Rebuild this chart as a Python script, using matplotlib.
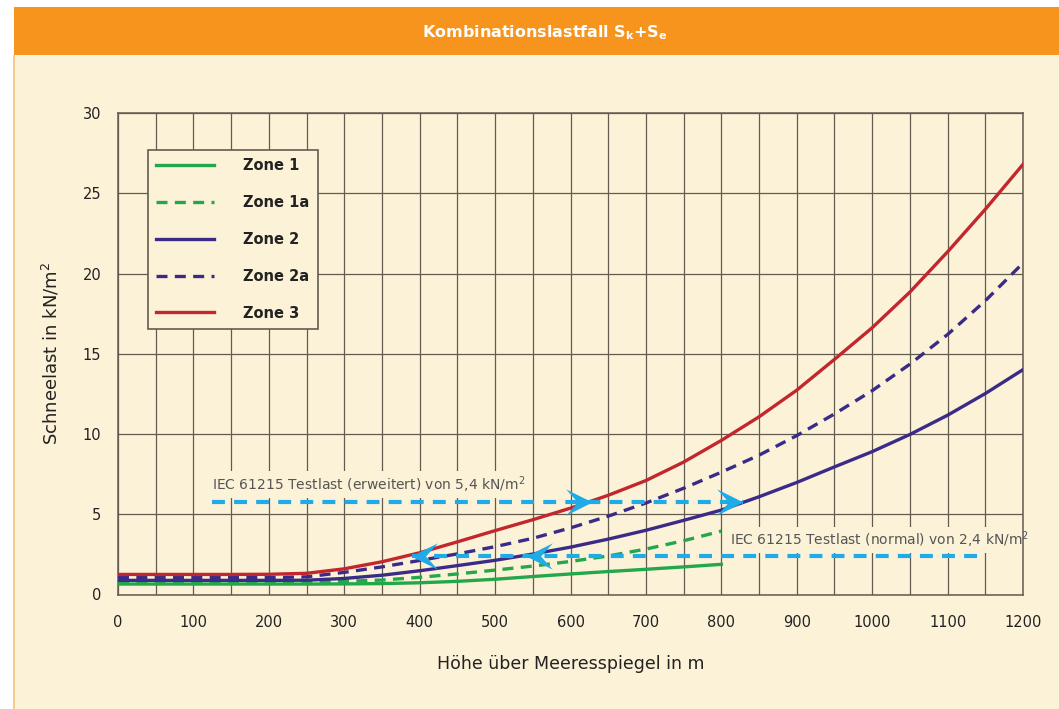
import matplotlib
matplotlib.use("Agg")
import matplotlib.pyplot as plt
from matplotlib.patches import Rectangle
from matplotlib.path import Path

# --- data ---
alt_800 = [0, 50, 100, 150, 200, 250, 300, 350, 400, 450, 500, 550, 600, 650, 700, 750, 800]
alt_1200 = alt_800 + [850, 900, 950, 1000, 1050, 1100, 1150, 1200]

zone1 = [0.65, 0.65, 0.65, 0.65, 0.65, 0.65, 0.66, 0.68, 0.73, 0.82, 0.95, 1.12, 1.28, 1.43, 1.57, 1.72, 1.88]
zone1a = [0.8, 0.8, 0.8, 0.8, 0.8, 0.8, 0.82, 0.9, 1.07, 1.28, 1.52, 1.77, 2.06, 2.4, 2.83, 3.35, 3.95]
zone2 = [0.88, 0.88, 0.88, 0.88, 0.88, 0.89, 1.0, 1.2, 1.48, 1.8, 2.13, 2.52, 2.95, 3.45, 4.0, 4.62, 5.26,
         6.09, 6.98, 7.95, 8.9, 9.97, 11.17, 12.52, 14.01]
zone2a = [1.05, 1.05, 1.05, 1.05, 1.05, 1.1, 1.38, 1.72, 2.12, 2.53, 2.98, 3.5, 4.15, 4.88, 5.7, 6.62, 7.62,
          8.68, 9.9, 11.25, 12.7, 14.35, 16.2, 18.3, 20.65]
zone3 = [1.25, 1.25, 1.25, 1.25, 1.26, 1.32, 1.6, 2.04, 2.6, 3.28, 3.98, 4.66, 5.38, 6.18, 7.1, 8.25, 9.6,
         11.07, 12.73, 14.65, 16.62, 18.84, 21.35, 24.0, 26.8]

# IEC test load guide lines: y level, line extent, arrow tips
upper_y = 5.75
upper_x = [125, 829]
upper_tips = [628, 829]
lower_y = 2.4
lower_x = [390, 1150]
lower_tips = [388, 541]

x_ticks = list(range(0, 1201, 100))
y_ticks = list(range(0, 31, 5))

cream = "#FCF2D8"
orange = "#F7941E"
gridc = "#635B4F"
green = "#22A84A"
indigo = "#3B2B88"
red = "#C1272D"
blue = "#1EABE8"

fig = plt.figure(figsize=(10.59, 7.09), dpi=100, facecolor="white")
W, H = 1059, 709
# background frame and header band
fig.patches.append(Rectangle((14 / W, 0), 1 - 14 / W, 1 - 7 / H, transform=fig.transFigure,
                             facecolor=cream, edgecolor="none", zorder=-2))
fig.patches.append(Rectangle((14 / W, 1 - 55 / H), 1 - 14 / W, 48 / H, transform=fig.transFigure,
                             facecolor=orange, edgecolor="none", zorder=-1))
fig.patches.append(Rectangle((13 / W, 0), 1.5 / W, 1 - 55 / H, transform=fig.transFigure,
                             facecolor="#F9C98A", edgecolor="none", zorder=-1))
fig.text(545 / W, 1 - 33 / H, "Kombinationslastfall S$_\\mathregular{k}$+S$_\\mathregular{e}$",
         color="white", fontsize=11.5, fontweight="bold", ha="center", va="center")

ax = fig.add_axes([118 / W, (H - 594.5) / H, (1023 - 118) / W, (594.5 - 113) / H])
ax.set_facecolor(cream)
ax.set_xlim(0, 1200)
ax.set_ylim(0, 30)
ax.set_xticks(x_ticks)
ax.set_xticks(list(range(50, 1200, 100)), minor=True)
ax.set_yticks(y_ticks)
ax.grid(True, which="both", color=gridc, lw=0.9)
ax.set_axisbelow(True)
for s in ax.spines.values():
    s.set_color(gridc)
    s.set_linewidth(1.1)
ax.tick_params(which="both", length=0)
ax.tick_params(axis="x", pad=15, labelsize=10.5, colors="#222222")
ax.tick_params(axis="y", pad=12, labelsize=10.5, colors="#222222")
ax.set_xlabel("Höhe über Meeresspiegel in m", fontsize=12.5, color="#222222", labelpad=18)
ax.set_ylabel("Schneelast in kN/m$^\\mathregular{2}$", fontsize=13, color="#222222", labelpad=15)

lw = 2.4
ax.plot(alt_800, zone1, color=green, lw=lw, label="Zone 1", zorder=3)
ax.plot(alt_800, zone1a, color=green, lw=lw, dashes=(3.3, 2.2), label="Zone 1a", zorder=3)
ax.plot(alt_1200, zone2, color=indigo, lw=lw, label="Zone 2", zorder=3)
ax.plot(alt_1200, zone2a, color=indigo, lw=lw, dashes=(3.3, 2.2), label="Zone 2a", zorder=3)
ax.plot(alt_1200, zone3, color=red, lw=lw, label="Zone 3", zorder=3)

# test-load guide lines with chevron arrow heads
codes = [Path.MOVETO, Path.LINETO, Path.LINETO, Path.LINETO, Path.CLOSEPOLY]
right_head = Path([(0, 0), (-1, 0.5), (-0.55, 0), (-1, -0.5), (0, 0)], codes)
left_head = Path([(0, 0), (1, 0.5), (0.55, 0), (1, -0.5), (0, 0)], codes)
ax.plot(upper_x, [upper_y, upper_y], color=blue, lw=3, dashes=(3.1, 2.2), zorder=4)
ax.plot(upper_tips, [upper_y] * len(upper_tips), ls="none", marker=right_head, ms=38,
        color=blue, mec="none", zorder=5)
ax.plot(lower_x, [lower_y, lower_y], color=blue, lw=3, dashes=(3.1, 2.2), zorder=4)
ax.plot(lower_tips, [lower_y] * len(lower_tips), ls="none", marker=left_head, ms=38,
        color=blue, mec="none", zorder=5)

box = dict(facecolor=cream, edgecolor="none", pad=2)
ax.text(125, 6.85, "IEC 61215 Testlast (erweitert) von 5,4 kN/m$^\\mathregular{2}$", fontsize=10,
        color="#555555", ha="left", va="center", bbox=box, zorder=2)
ax.text(1208, 3.4, "IEC 61215 Testlast (normal) von 2,4 kN/m$^\\mathregular{2}$", fontsize=10,
        color="#555555", ha="right", va="center", bbox=box, zorder=2, clip_on=False)

leg = ax.legend(loc="upper left", bbox_to_anchor=(0.033, 0.923),
                prop={"weight": "bold", "size": 10.5}, frameon=True, fancybox=False,
                handlelength=4.0, handletextpad=2.0, labelspacing=1.5, borderpad=0.55,
                borderaxespad=0)
leg.get_frame().set_facecolor(cream)
leg.get_frame().set_edgecolor(gridc)
leg.get_frame().set_linewidth(1.2)
leg.get_frame().set_alpha(1)
for t in leg.get_texts():
    t.set_color("#222222")

fig.savefig("out.png", dpi=100, facecolor=fig.get_facecolor())
